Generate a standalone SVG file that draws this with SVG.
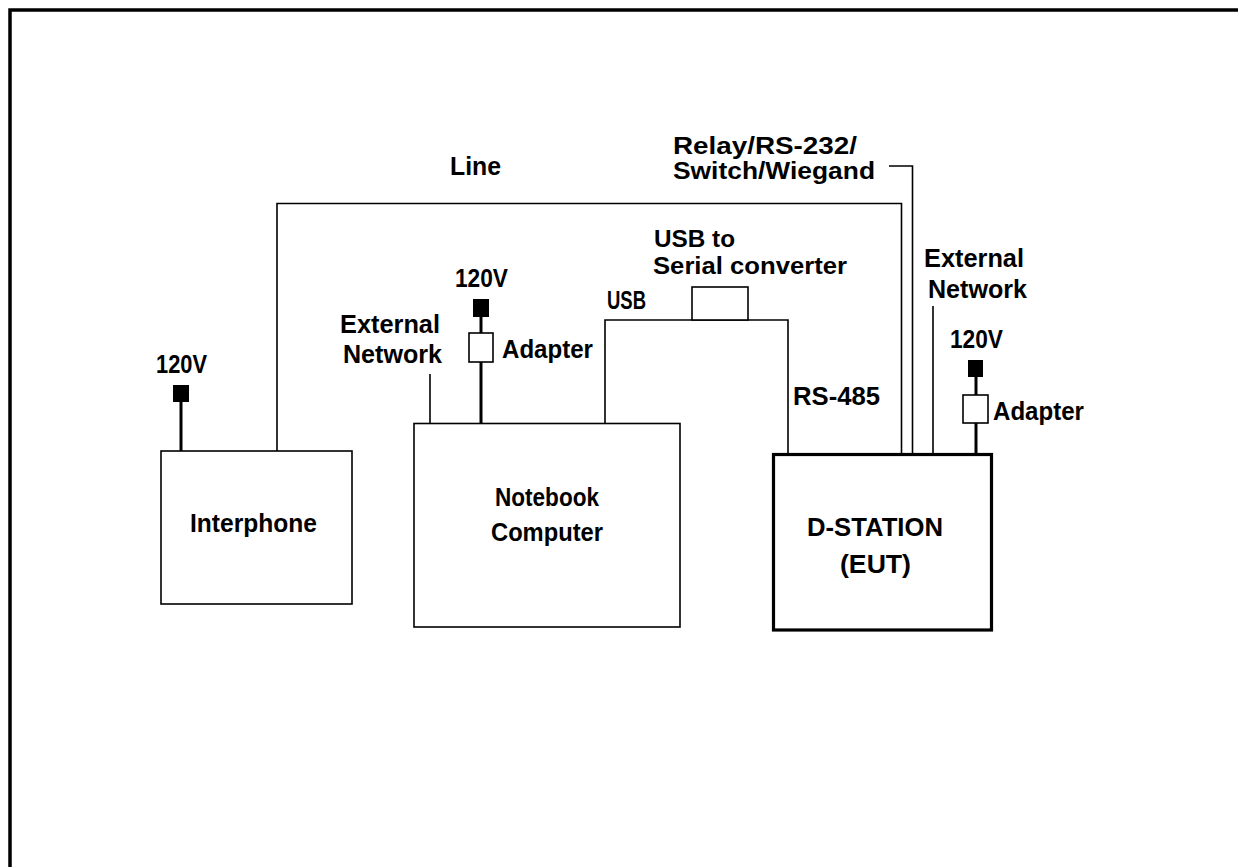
<svg xmlns="http://www.w3.org/2000/svg" width="1238" height="867" viewBox="0 0 1238 867">
<style>
text{font-family:"Liberation Sans",Arial,sans-serif;font-weight:bold;font-size:26px;fill:#000}
.sm{font-size:24px}
.box{fill:#fff;stroke:#000;stroke-width:1.6}
.thick{fill:#fff;stroke:#000;stroke-width:3.2}
.wire{fill:none;stroke:#000;stroke-width:1.6}
.pwr{fill:none;stroke:#000;stroke-width:3}
.plug{fill:#000}
.adp{fill:#fff;stroke:#000;stroke-width:1.6}
</style>
<rect x="0" y="0" width="1238" height="867" fill="#fff"/>
<rect x="10" y="10" width="1240" height="880" fill="none" stroke="#000" stroke-width="3.5"/>

<g id="connectors">
  <polyline class="wire" points="277,451 277,203.5 901.5,203.5 901.5,455"/>
  <polyline class="wire" points="889,166 912.5,166 912.5,455"/>
  <line class="wire" x1="933" y1="306" x2="933" y2="455"/>
  <polyline class="wire" points="605,423 605,320 788,320 788,455"/>
  <line class="wire" x1="430" y1="374" x2="430" y2="423"/>
  <line class="pwr" x1="181" y1="400" x2="181" y2="451"/>
  <line class="pwr" x1="481" y1="315" x2="481" y2="423"/>
  <line class="pwr" x1="976" y1="375" x2="976" y2="455"/>
</g>

<g id="interphone">
  <rect class="box" x="161" y="451" width="191" height="153"/>
  <text x="190" y="532" textLength="127" lengthAdjust="spacingAndGlyphs">Interphone</text>
</g>

<g id="interphone-power">
  <rect class="plug" x="173" y="385" width="16" height="17"/>
  <text x="156" y="373" textLength="51" lengthAdjust="spacingAndGlyphs">120V</text>
</g>

<g id="notebook">
  <rect class="box" x="414" y="423.5" width="266" height="203.5"/>
  <text x="547" y="506" text-anchor="middle" textLength="104" lengthAdjust="spacingAndGlyphs">Notebook</text>
  <text x="547" y="541" text-anchor="middle" textLength="112" lengthAdjust="spacingAndGlyphs">Computer</text>
</g>

<g id="notebook-power">
  <rect class="plug" x="473" y="299" width="16" height="18"/>
  <rect class="adp" x="469" y="333" width="24" height="29"/>
  <text x="455" y="287" textLength="53" lengthAdjust="spacingAndGlyphs">120V</text>
  <text x="502" y="358" textLength="91" lengthAdjust="spacingAndGlyphs">Adapter</text>
</g>

<g id="ext-net-left">
  <text x="340" y="333" textLength="100" lengthAdjust="spacingAndGlyphs">External</text>
  <text x="343" y="363" textLength="99" lengthAdjust="spacingAndGlyphs">Network</text>
</g>

<g id="converter">
  <rect class="box" x="692" y="287" width="56" height="33"/>
  <text class="sm" x="654" y="247" textLength="81" lengthAdjust="spacingAndGlyphs">USB to</text>
  <text class="sm" x="653" y="274" textLength="194" lengthAdjust="spacingAndGlyphs">Serial converter</text>
</g>

<g id="labels">
  <text x="450" y="175" textLength="51" lengthAdjust="spacingAndGlyphs">Line</text>
  <text class="sm" x="673" y="154" textLength="184" lengthAdjust="spacingAndGlyphs">Relay/RS-232/</text>
  <text class="sm" x="673" y="179" textLength="202" lengthAdjust="spacingAndGlyphs">Switch/Wiegand</text>
  <text x="607" y="309" textLength="39" lengthAdjust="spacingAndGlyphs">USB</text>
  <text x="793" y="405" textLength="87" lengthAdjust="spacingAndGlyphs">RS-485</text>
</g>

<g id="ext-net-right">
  <text x="924" y="267" textLength="100" lengthAdjust="spacingAndGlyphs">External</text>
  <text x="928" y="298" textLength="99" lengthAdjust="spacingAndGlyphs">Network</text>
</g>

<g id="dstation-power">
  <rect class="plug" x="968" y="360" width="15" height="17"/>
  <rect class="adp" x="963" y="395" width="25" height="28"/>
  <text x="950" y="348" textLength="53" lengthAdjust="spacingAndGlyphs">120V</text>
  <text x="993" y="420" textLength="91" lengthAdjust="spacingAndGlyphs">Adapter</text>
</g>

<g id="dstation">
  <rect class="thick" x="773.5" y="454.5" width="218" height="175.5"/>
  <text x="807" y="536" textLength="136" lengthAdjust="spacingAndGlyphs">D-STATION</text>
  <text x="840" y="573" textLength="71" lengthAdjust="spacingAndGlyphs">(EUT)</text>
</g>
</svg>
